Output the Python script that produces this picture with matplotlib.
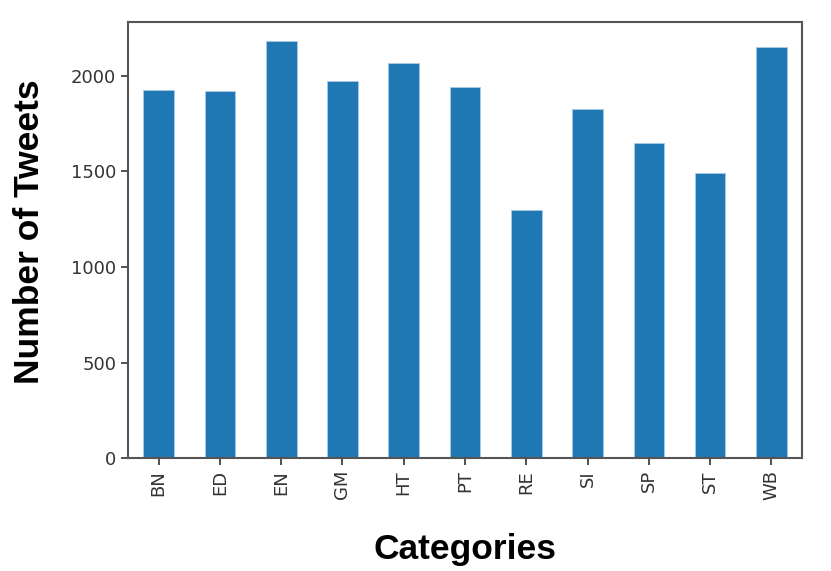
import matplotlib.pyplot as plt

# tweet counts per category
categories = ['BN', 'ED', 'EN', 'GM', 'HT', 'PT', 'RE', 'SI', 'SP', 'ST', 'WB']
counts = [1927, 1920, 2183, 1972, 2068, 1939, 1298, 1824, 1647, 1490, 2148]

fig = plt.figure(figsize=(8.31, 5.71), dpi=100)
ax = fig.add_axes([128 / 831, 1 - 458.3 / 571, (802 - 128) / 831, (458.3 - 22) / 571])

x = range(len(categories))
ax.bar(x, counts, width=0.5, color='#1f77b4', edgecolor='#a9cbe6', linewidth=0.6)

ax.set_xlim(-0.5, len(categories) - 0.5)
ax.set_ylim(0, 2281)
ax.set_xticks(list(x))
ax.set_xticklabels(categories, rotation=90)
ax.set_yticks([0, 500, 1000, 1500, 2000])
ax.tick_params(labelsize=13, colors='#333333', length=5, width=1.2)

for s in ax.spines.values():
    s.set_color('#555555')
    s.set_linewidth(1.5)

ax.set_xlabel('Categories', fontsize=25.5, fontweight='bold', family='Liberation Sans', labelpad=24)
ax.set_ylabel('Number of Tweets', fontsize=25.5, fontweight='bold', family='Liberation Sans')
ax.yaxis.set_label_coords(-0.122, 0.52)

fig.savefig('out.png', dpi=100)
